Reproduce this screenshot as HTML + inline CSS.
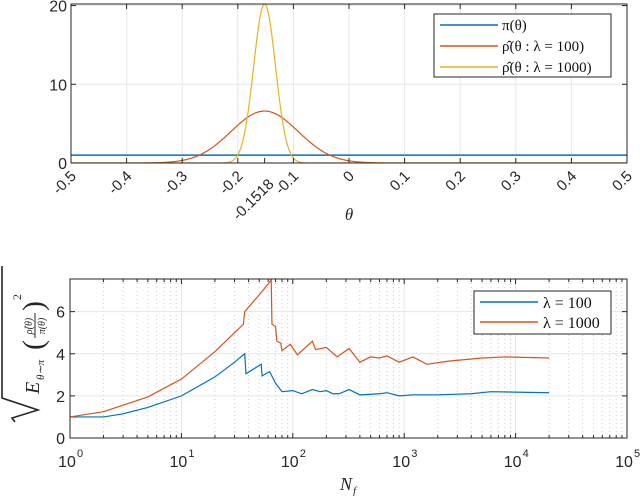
<!DOCTYPE html>
<html><head><meta charset="utf-8"><style>
body{margin:0;background:#fff;width:640px;height:496px;overflow:hidden}
svg{font-family:"Liberation Sans",sans-serif}
.ser{font-family:"Liberation Serif",serif}
</style></head><body>
<svg id="svg" width="640" height="496" viewBox="0 0 640 496" xmlns="http://www.w3.org/2000/svg">
<g id="top"></g>
<g id="bot"></g>
</svg>
<script>
// ---- top chart data ----
const topXTicks=[-0.5,-0.4,-0.3,-0.2,-0.1,0,0.1,0.2,0.3,0.4,0.5];
const topYTicks=[0,10,20];
const priorValue=[1];
const gaussCenters=[-0.1518,-0.1518];
const gaussPeaks=[6.6,20.2];
const gaussSigmas=[0.0604,0.0197];
const topLegend=["π(θ)","ρ̂(θ : λ = 100)","ρ̂(θ : λ = 1000)"];
// ---- bottom chart data ----
const botYTicks=[0,2,4,6];
const botXExps=[0,1,2,3,4,5];
const blueN=[1,2,3,5,10,20,30,37,38,52,53,62,70,80,100,120,150,175,200,230,260,320,400,600,700,900,1200,2000,4000,6000,20000];
const blueV=[1,1.0,1.15,1.45,2.0,2.9,3.6,4.0,3.05,3.5,2.95,3.15,2.6,2.2,2.25,2.1,2.3,2.2,2.25,2.1,2.1,2.3,2.05,2.1,2.15,2.0,2.05,2.05,2.1,2.2,2.15];
const redN=[1,2,5,10,20,30,36,37,50,62,64,65,70,72,78,80,95,110,150,160,200,250,320,400,500,600,700,900,1200,1600,2500,5000,8000,20000];
const redV=[1.0,1.25,1.95,2.8,4.1,5.0,5.4,6.0,6.8,7.4,7.55,5.4,5.3,4.6,4.5,4.15,4.45,3.95,4.6,4.2,4.3,3.85,4.25,3.6,3.85,3.8,3.9,3.6,3.85,3.5,3.65,3.8,3.85,3.8];
const botLegend=["λ = 100","λ = 1000"];

const NS="http://www.w3.org/2000/svg";
function mk(p,t,a){const e=document.createElementNS(NS,t);for(const k in a)e.setAttribute(k,a[k]);p.appendChild(e);return e;}
const C=['#0072BD','#D95319','#EDB120'];

// TOP
const T=document.getElementById('top');
const tL=71,tR=627,tT=4,tB=163;
const tx=v=>tL+(v+0.5)/1*(tR-tL);
const ty=v=>tB-v/20.2*(tB-tT);
for(const v of topXTicks){const g=mk(T,'line',{x1:tx(v),x2:tx(v),y1:tT,y2:tB,stroke:'#e6e6e6'});

}
for(const v of topYTicks){const g=mk(T,'line',{x1:tL,x2:tR,y1:ty(v),y2:ty(v),stroke:'#e6e6e6'});

}
const tc=mk(T,'g',{'clip-path':'url(#ct)'});
mk(mk(T,'clipPath',{id:'ct'}),'rect',{x:tL,y:tT,width:tR-tL,height:tB-tT});
let pl=mk(tc,'line',{x1:tL,x2:tR,y1:ty(priorValue[0]),y2:ty(priorValue[0]),stroke:C[0],'stroke-width':1.5});


for(let s=0;s<2;s++){let d='';for(let i=0;i<=600;i++){const x=-0.5+i/600;const y=gaussPeaks[s]*Math.exp(-0.5*((x-gaussCenters[s])/gaussSigmas[s])**2);d+=(i?'L':'M')+tx(x).toFixed(2)+','+ty(y).toFixed(2);}
const p=mk(tc,'path',{d,fill:'none',stroke:C[s+1],'stroke-width':1.2});

}
mk(T,'rect',{x:tL,y:tT,width:tR-tL,height:tB-tT,fill:'none',stroke:'#262626','stroke-width':1});
const topTickLabels=topXTicks.map(v=>v===0?'0':String(v));
topXTicks.forEach((v,i)=>{mk(T,'line',{x1:tx(v),x2:tx(v),y1:tB,y2:tB-5,stroke:'#262626'});mk(T,'line',{x1:tx(v),x2:tx(v),y1:tT,y2:tT+5,stroke:'#262626'});
const t=mk(T,'text',{x:tx(v)+6,y:tB+14,'text-anchor':'end','font-size':15,fill:'#262626',transform:`rotate(-45 ${tx(v)+6} ${tB+14})`});t.textContent=topTickLabels[i];

});
{const v=gaussCenters[0];mk(T,'line',{x1:tx(v),x2:tx(v),y1:tB,y2:tB-5,stroke:'#262626'});
const t=mk(T,'text',{x:tx(v)+10,y:tB+22,'text-anchor':'end','font-size':15,fill:'#262626',transform:`rotate(-45 ${tx(v)+10} ${tB+22})`});t.textContent='-0.1518';

}
topYTicks.forEach(v=>{mk(T,'line',{x1:tL,x2:tL+5,y1:ty(v),y2:ty(v),stroke:'#262626'});mk(T,'line',{x1:tR,x2:tR-5,y1:ty(v),y2:ty(v),stroke:'#262626'});
const t=mk(T,'text',{x:tL-4,y:ty(v)+6,'text-anchor':'end','font-size':16,fill:'#262626'});t.textContent=v;

});
let xl=mk(T,'text',{x:349,y:220,'text-anchor':'middle','font-size':17,'font-style':'italic',class:'ser',fill:'#262626'});xl.textContent='θ';


let lg=mk(T,'g',{});


mk(lg,'rect',{x:434,y:14,width:177,height:63,fill:'#fff',stroke:'#262626'});
topLegend.forEach((s,i)=>{const y=25+i*21;mk(lg,'line',{x1:440,x2:498,y1:y,y2:y,stroke:C[i],'stroke-width':1.5});
const t=mk(lg,'text',{x:502,y:y+5,'font-size':15,class:'ser',fill:'#111'});t.textContent=s;

});

// BOTTOM
const B=document.getElementById('bot');
const bL=70,bR=627,bT=279,bB=438;
const bx=n=>bL+Math.log10(n)/5*(bR-bL);
const by=v=>bB-v/7.55*(bB-bT);
for(let e=0;e<5;e++)for(let m=2;m<10;m++){const x=bx(m*10**e);mk(B,'line',{x1:x,x2:x,y1:bT,y2:bB,stroke:'#cccccc','stroke-dasharray':'1,3'});
mk(B,'line',{x1:x,x2:x,y1:bB,y2:bB-3,stroke:'#262626'});mk(B,'line',{x1:x,x2:x,y1:bT,y2:bT+3,stroke:'#262626'});}
botXExps.forEach(e=>mk(B,'line',{x1:bx(10**e),x2:bx(10**e),y1:bT,y2:bB,stroke:'#e6e6e6'}));
botYTicks.forEach(v=>mk(B,'line',{x1:bL,x2:bR,y1:by(v),y2:by(v),stroke:'#e6e6e6'}));
const bc=mk(B,'g',{'clip-path':'url(#cb)'});
mk(mk(B,'clipPath',{id:'cb'}),'rect',{x:bL,y:bT,width:bR-bL,height:bB-bT});
[[blueN,blueV,C[0],'lambda-100-line'],[redN,redV,C[1],'lambda-1000-line']].forEach(([N,V,c,nm])=>{
const p=mk(bc,'path',{d:N.map((n,i)=>(i?'L':'M')+bx(n).toFixed(2)+','+by(V[i]).toFixed(2)).join(''),fill:'none',stroke:c,'stroke-width':1.2});

});
mk(B,'rect',{x:bL,y:bT,width:bR-bL,height:bB-bT,fill:'none',stroke:'#262626'});
botXExps.forEach(e=>{const x=bx(10**e);mk(B,'line',{x1:x,x2:x,y1:bB,y2:bB-5,stroke:'#262626'});mk(B,'line',{x1:x,x2:x,y1:bT,y2:bT+5,stroke:'#262626'});
const t=mk(B,'text',{x:x-3,y:bB+29,'text-anchor':'middle','font-size':16,fill:'#262626'});t.textContent='10';


const s=mk(B,'text',{x:x+7,y:bB+19,'font-size':11,fill:'#262626'});s.textContent=e;});
botYTicks.forEach(v=>{mk(B,'line',{x1:bL,x2:bL+5,y1:by(v),y2:by(v),stroke:'#262626'});mk(B,'line',{x1:bR,x2:bR-5,y1:by(v),y2:by(v),stroke:'#262626'});
const t=mk(B,'text',{x:bL-5,y:by(v)+6,'text-anchor':'end','font-size':16,fill:'#262626'});t.textContent=v;

});
let nf=mk(B,'text',{x:340,y:490,'font-size':18,'font-style':'italic',class:'ser',fill:'#262626'});nf.textContent='N';


mk(B,'text',{x:353,y:494,'font-size':11,'font-style':'italic',class:'ser',fill:'#262626'}).textContent='f';
// y label
let yl=mk(B,'g',{transform:'translate(41,362) rotate(-90)'});


mk(yl,'path',{d:'M-60,-26 L-56,-29 L-48,-3 L-36,-39 L96,-39',fill:'none',stroke:'#262626','stroke-width':1.6});
let e1=mk(yl,'text',{x:-32,y:-2,'font-size':20,'font-style':'italic',class:'ser',fill:'#262626'});e1.textContent='E';
mk(yl,'text',{x:-18,y:3,'font-size':11,'font-style':'italic',class:'ser',fill:'#262626'}).textContent='θ∼π';
mk(yl,'text',{x:12,y:2,'font-size':30,class:'ser',fill:'#262626'}).textContent='(';
mk(yl,'text',{x:36,y:-9,'text-anchor':'middle','font-size':10,'font-style':'italic',class:'ser',fill:'#262626'}).textContent='ρ̂(θ)';
mk(yl,'line',{x1:24,x2:49,y1:-6,y2:-6,stroke:'#262626'});
mk(yl,'text',{x:36,y:4,'text-anchor':'middle','font-size':10,'font-style':'italic',class:'ser',fill:'#262626'}).textContent='π(θ)';
mk(yl,'text',{x:51,y:2,'font-size':30,class:'ser',fill:'#262626'}).textContent=')';
mk(yl,'text',{x:62,y:-20,'font-size':12,class:'ser',fill:'#262626'}).textContent='2';
let lg2=mk(B,'g',{});


mk(lg2,'rect',{x:474,y:291,width:137,height:43,fill:'#fff',stroke:'#262626'});
botLegend.forEach((s,i)=>{const y=302+i*20;mk(lg2,'line',{x1:480,x2:538,y1:y,y2:y,stroke:C[i],'stroke-width':1.5});
const t=mk(lg2,'text',{x:543,y:y+6,'font-size':16,class:'ser',fill:'#111'});t.textContent=s;

});
</script>
</body></html>
